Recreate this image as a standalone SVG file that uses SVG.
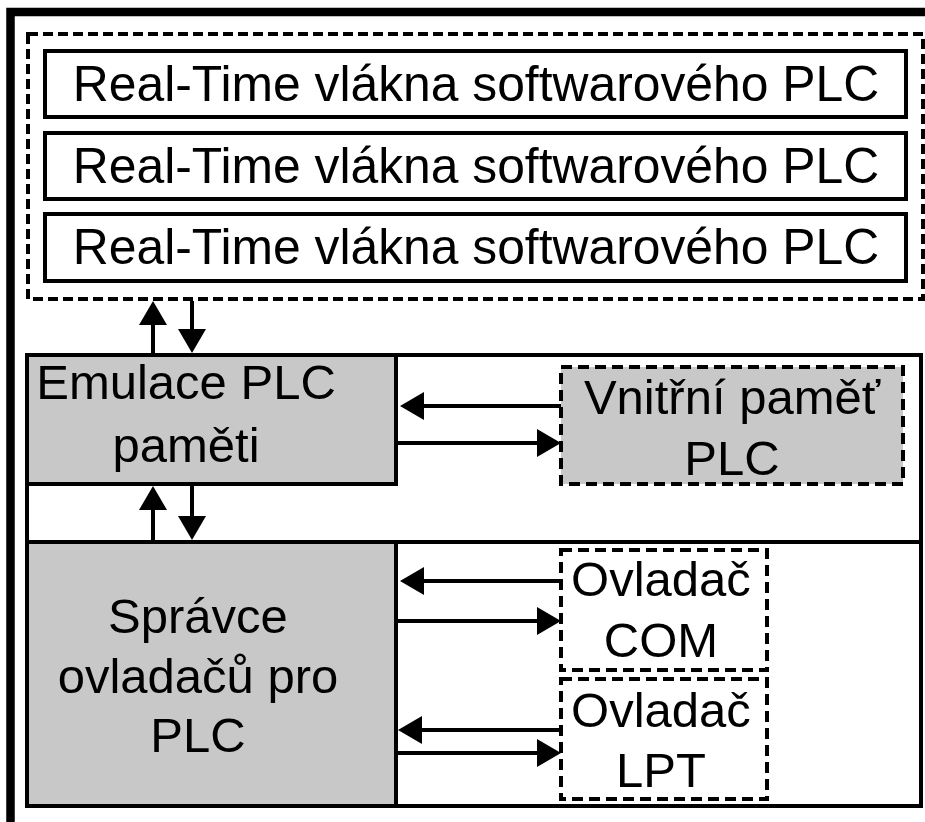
<svg xmlns="http://www.w3.org/2000/svg" width="925" height="822" viewBox="0 0 925 822">
  <style>
    .box { fill: #ffffff; stroke: #000; stroke-width: 4; }
    .gray { fill: #c8c8c8; stroke: #000; stroke-width: 4; }
    .dash-big { fill: none; stroke: #000; stroke-width: 4; stroke-dasharray: 10 5; }
    .dash { stroke: #000; stroke-width: 4; stroke-dasharray: 11 6; }
    .frame { fill: none; stroke: #000; stroke-width: 4; }
    .wire { fill: none; stroke: #000; stroke-width: 4; marker-end: url(#head); }
    text { font-family: "Liberation Sans", Arial, sans-serif; font-size: 49px; fill: #000; text-anchor: middle; }
    .rt { font-size: 49.8px; }
  </style>
  <defs>
    <marker id="head" markerUnits="userSpaceOnUse" markerWidth="24" markerHeight="28" refX="14" refY="14" orient="auto">
      <path d="M0,0 L24,14 L0,28 Z" fill="#000"/>
    </marker>
  </defs>

  <rect width="925" height="822" fill="#ffffff"/>

  <!-- heavy outer border (top and left) -->
  <path d="M10.5,822 V12 H925" fill="none" stroke="#000" stroke-width="8.5"/>

  <!-- real-time thread group -->
  <g id="rt-group">
    <rect class="dash-big" x="28" y="34" width="895" height="265"/>
  </g>
  <g id="rt-thread-1">
    <rect class="box" x="45" y="51" width="861" height="66"/>
    <text class="rt" x="476" y="101">Real-Time vlákna softwarového PLC</text>
  </g>
  <g id="rt-thread-2">
    <rect class="box" x="45" y="133" width="861" height="66"/>
    <text class="rt" x="476" y="183">Real-Time vlákna softwarového PLC</text>
  </g>
  <g id="rt-thread-3">
    <rect class="box" x="45" y="214" width="861" height="67"/>
    <text class="rt" x="476" y="264">Real-Time vlákna softwarového PLC</text>
  </g>

  <!-- lower frame with divider -->
  <g id="runtime-frame">
    <rect class="frame" x="27" y="355" width="894" height="451"/>
    <line x1="27" y1="542" x2="921" y2="542" stroke="#000" stroke-width="4"/>
  </g>

  <g id="memory-emulation">
    <rect class="gray" x="27" y="355" width="369" height="129"/>
    <text x="186" y="399">Emulace PLC</text>
    <text x="186" y="462">paměti</text>
  </g>

  <g id="internal-memory">
    <rect class="gray dash" x="561" y="367" width="342" height="117"/>
    <text x="732" y="414">Vnitřní paměť</text>
    <text x="732" y="475">PLC</text>
  </g>

  <g id="driver-manager">
    <rect class="gray" x="27" y="542" width="369" height="264"/>
    <text x="198" y="633">Správce</text>
    <text x="198" y="693">ovladačů pro</text>
    <text x="198" y="752">PLC</text>
  </g>

  <g id="driver-com">
    <rect class="dash" fill="#ffffff" x="561" y="550" width="206" height="120"/>
    <text x="661" y="596">Ovladač</text>
    <text x="661" y="657">COM</text>
  </g>

  <g id="driver-lpt">
    <rect class="dash" fill="#ffffff" x="561" y="679" width="206" height="120"/>
    <text x="661" y="727">Ovladač</text>
    <text x="661" y="787">LPT</text>
  </g>

  <!-- connectors -->
  <g id="connectors">
    <path class="wire" d="M153,355 V311"/>
    <path class="wire" d="M192,301 V343"/>
    <path class="wire" d="M153,542 V496"/>
    <path class="wire" d="M192,486 V530"/>
    <path class="wire" d="M561,406 H410"/>
    <path class="wire" d="M398,443 H551"/>
    <path class="wire" d="M561,581 H410"/>
    <path class="wire" d="M398,621 H551"/>
    <path class="wire" d="M561,730 H408"/>
    <path class="wire" d="M398,753 H551"/>
  </g>
</svg>
